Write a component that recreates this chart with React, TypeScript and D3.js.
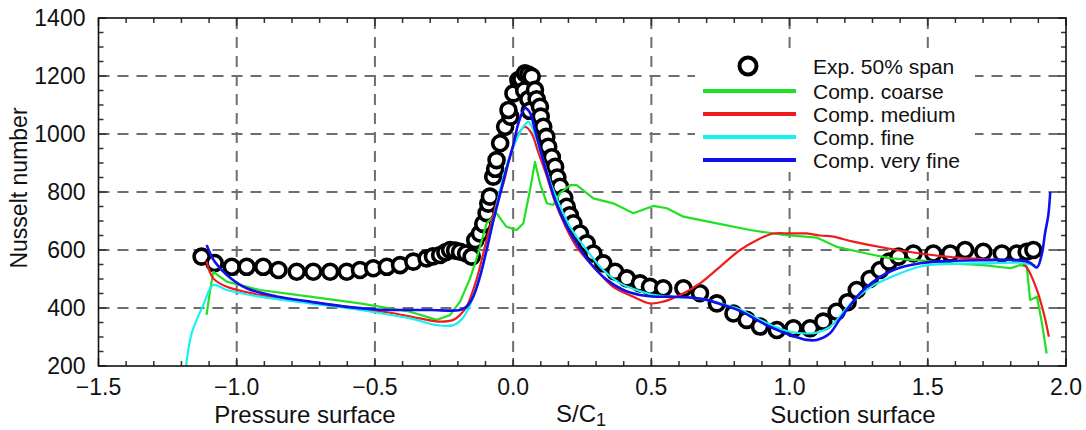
import React from "react";
import * as d3 from "d3";

const expData: [number, number][] = [
  [-1.127, 577], [-1.08, 555], [-1.018, 542], [-0.964, 542], [-0.904, 542], [-0.849, 531],
  [-0.783, 525], [-0.723, 525], [-0.662, 525], [-0.602, 525], [-0.554, 531], [-0.506, 537],
  [-0.457, 542], [-0.409, 548], [-0.361, 560], [-0.313, 571], [-0.29, 578], [-0.264, 583],
  [-0.245, 592], [-0.228, 600], [-0.21, 598], [-0.192, 594], [-0.17, 588], [-0.15, 577],
  [-0.137, 634], [-0.12, 657], [-0.108, 690], [-0.096, 727], [-0.09, 760],
  [-0.084, 784], [-0.072, 853], [-0.065, 880], [-0.06, 910], [-0.047, 968], [-0.029, 1025],
  [-0.01, 1060], [-0.017, 1083], [0.001, 1140], [0.019, 1186], [0.03, 1190], [0.043, 1209],
  [0.055, 1205], [0.04, 1150], [0.055, 1120], [0.06, 1080], [0.067, 1198], [0.079, 1152],
  [0.085, 1120], [0.097, 1094], [0.1, 1060], [0.109, 1025], [0.12, 990], [0.127, 956],
  [0.14, 920], [0.152, 887], [0.16, 850], [0.17, 818], [0.185, 780], [0.194, 749],
  [0.205, 720], [0.218, 692], [0.242, 657], [0.266, 623], [0.29, 588], [0.326, 554],
  [0.369, 525], [0.411, 502], [0.459, 485], [0.495, 473], [0.543, 468], [0.616, 468],
  [0.676, 451], [0.737, 416], [0.797, 381], [0.845, 359], [0.893, 336], [0.954, 324],
  [1.014, 330], [1.074, 330], [1.122, 353], [1.17, 387], [1.21, 420], [1.243, 462],
  [1.29, 500], [1.327, 531], [1.36, 560], [1.394, 577], [1.448, 588], [1.52, 588],
  [1.581, 588], [1.635, 600], [1.701, 594], [1.768, 588], [1.822, 588], [1.858, 594],
  [1.882, 600],
];

const coarse: [number, number][] = [
  [-1.109, 376], [-1.097, 456], [-1.085, 525], [-1.036, 491], [-0.916, 462], [-0.735, 439],
  [-0.554, 416], [-0.373, 387], [-0.276, 359], [-0.228, 376], [-0.192, 422], [-0.156, 502],
  [-0.132, 571], [-0.096, 692], [-0.06, 727], [-0.042, 703], [-0.024, 680], [0.013, 669],
  [0.037, 692], [0.061, 807], [0.079, 904], [0.097, 830], [0.122, 761], [0.145, 755],
  [0.17, 796], [0.206, 824], [0.23, 824], [0.29, 778], [0.362, 761], [0.435, 727],
  [0.507, 752], [0.556, 744], [0.616, 715], [0.737, 692], [0.857, 669], [0.978, 652],
  [1.098, 643], [1.17, 611], [1.279, 588], [1.363, 571], [1.46, 565], [1.581, 554],
  [1.701, 548], [1.799, 537], [1.834, 548], [1.858, 543], [1.87, 428], [1.895, 439],
  [1.913, 348], [1.93, 243],
];

const medium: [number, number][] = [
  [-1.109, 560], [-1.085, 502], [-1.036, 473], [-0.916, 445], [-0.735, 420], [-0.554, 399],
  [-0.433, 382], [-0.337, 364], [-0.264, 353], [-0.216, 359], [-0.192, 376], [-0.168, 405],
  [-0.132, 500], [-0.096, 634], [-0.06, 760], [-0.035, 830], [-0.01, 930], [0.013, 991],
  [0.043, 1025], [0.067, 1002], [0.09, 940], [0.12, 860], [0.15, 770], [0.19, 680],
  [0.23, 610], [0.302, 531], [0.362, 473], [0.435, 439], [0.495, 416], [0.543, 422],
  [0.604, 445], [0.676, 485], [0.749, 543], [0.821, 600], [0.881, 634], [0.941, 657],
  [1.002, 657], [1.062, 657], [1.11, 650], [1.158, 646], [1.23, 629], [1.352, 606],
  [1.472, 588], [1.593, 575], [1.713, 568], [1.834, 560], [1.858, 540], [1.895, 462],
  [1.92, 380], [1.938, 301],
];

const fine: [number, number][] = [
  [-1.183, 200], [-1.163, 313], [-1.121, 410], [-1.085, 479], [-1.036, 462], [-0.916, 439],
  [-0.735, 416], [-0.554, 393], [-0.373, 364], [-0.276, 341], [-0.216, 341], [-0.18, 368],
  [-0.144, 439], [-0.108, 554], [-0.072, 700], [-0.035, 853], [0.001, 956], [0.037, 1025],
  [0.055, 1042], [0.073, 1014], [0.109, 910], [0.145, 807], [0.206, 680], [0.266, 600],
  [0.326, 531], [0.387, 485], [0.447, 462], [0.507, 445], [0.568, 439], [0.64, 436],
  [0.7, 428], [0.76, 413], [0.821, 395], [0.881, 365], [0.941, 338], [1.002, 318],
  [1.062, 312], [1.098, 315], [1.146, 335], [1.207, 400], [1.255, 445], [1.303, 478],
  [1.352, 500], [1.472, 543], [1.593, 552], [1.713, 554], [1.834, 556], [1.87, 550],
  [1.89, 546],
];

const veryFine: [number, number][] = [
  [-1.109, 617], [-1.08, 560], [-1.036, 514], [-0.964, 468], [-0.855, 440], [-0.735, 422],
  [-0.602, 404], [-0.494, 395], [-0.4, 393], [-0.3, 393], [-0.192, 393], [-0.168, 405],
  [-0.144, 440], [-0.12, 508], [-0.096, 600], [-0.072, 700], [-0.048, 790], [-0.024, 880],
  [0, 960], [0.02, 1040], [0.043, 1089], [0.06, 1075], [0.08, 1010], [0.1, 940],
  [0.122, 864], [0.152, 772], [0.188, 692], [0.23, 623], [0.278, 556], [0.339, 497],
  [0.399, 462], [0.459, 445], [0.52, 439], [0.58, 439], [0.64, 436], [0.7, 428],
  [0.76, 410], [0.821, 390], [0.881, 359], [0.941, 330], [1.002, 307], [1.062, 290],
  [1.098, 290], [1.146, 313], [1.18, 359], [1.207, 393], [1.255, 451], [1.303, 491],
  [1.376, 531], [1.472, 554], [1.593, 563], [1.713, 565], [1.834, 565], [1.87, 556],
  [1.895, 540], [1.913, 588], [1.924, 657], [1.936, 720], [1.943, 800],
];

const xTickValues = [-1.5, -1.0, -0.5, 0.0, 0.5, 1.0, 1.5, 2.0];
const yTickValues = [200, 400, 600, 800, 1000, 1200, 1400];
const xGridValues = [-1.0, -0.5, 0.0, 0.5, 1.0, 1.5];
const yGridValues = [400, 600, 800, 1000, 1200];

const seriesNames = ["Comp. coarse", "Comp. medium", "Comp. fine", "Comp. very fine"];
const seriesColors = ["#22e022", "#ee1c1c", "#16f0f0", "#1010ee"];
const expLabel = "Exp. 50% span";

const W = 1086;
const H = 430;
const left = 98.5;
const right = 1066;
const top = 18;
const bottom = 366;
const FONT = "'Liberation Sans', Arial, Helvetica, sans-serif";

export default function App() {
  const x = d3.scaleLinear().domain([-1.5, 2.0]).range([left, right]);
  const y = d3.scaleLinear().domain([200, 1400]).range([bottom, top]);

  const smooth = d3
    .line<[number, number]>()
    .x((d) => x(d[0]))
    .y((d) => y(d[1]))
    .curve(d3.curveCatmullRom.alpha(0.5));
  const linear = d3
    .line<[number, number]>()
    .x((d) => x(d[0]))
    .y((d) => y(d[1]));

  const series = [coarse, medium, fine, veryFine];
  const xMinor = d3.range(-15, 21).map((i) => i / 10);
  const yMinor = d3.range(200, 1401, 50);

  const legendX1 = 703;
  const legendX2 = 796;
  const legendTextX = 813;
  const legendRows = [66, 91, 114, 137, 160];

  return (
    <svg
      width={W}
      height={H}
      style={{ position: "absolute", left: 0, top: 0, background: "#fff" }}
      fontFamily={FONT}
    >
      <defs>
        <clipPath id="plotClip">
          <rect x={left} y={top} width={right - left} height={bottom - top} />
        </clipPath>
      </defs>

      {/* grid */}
      {xGridValues.map((v) => (
        <line
          key={"gx" + v}
          x1={x(v)}
          x2={x(v)}
          y1={top}
          y2={bottom}
          stroke="#6e6e6e"
          strokeWidth={2}
          strokeDasharray="11 8"
        />
      ))}
      {yGridValues.map((v) => (
        <line
          key={"gy" + v}
          x1={left}
          x2={right}
          y1={y(v)}
          y2={y(v)}
          stroke="#6e6e6e"
          strokeWidth={2}
          strokeDasharray="11 8"
        />
      ))}

      {/* legend background */}
      <rect x={695} y={50} width={280} height={122} fill="#fff" />

      {/* ticks */}
      {xMinor.map((v, i) => {
        const major = Math.abs(v * 2 - Math.round(v * 2)) < 1e-6;
        const len = major ? 8 : 5;
        return (
          <g key={"xt" + i} stroke="#333" strokeWidth={1.5}>
            <line x1={x(v)} x2={x(v)} y1={bottom} y2={bottom - len} />
            <line x1={x(v)} x2={x(v)} y1={top} y2={top + len} />
          </g>
        );
      })}
      {yMinor.map((v, i) => {
        const major = v % 200 === 0;
        const len = major ? 8 : 5;
        return (
          <g key={"yt" + i} stroke="#333" strokeWidth={1.5}>
            <line x1={left} x2={left + len} y1={y(v)} y2={y(v)} />
            <line x1={right} x2={right - len} y1={y(v)} y2={y(v)} />
          </g>
        );
      })}

      <g clipPath="url(#plotClip)">
        {/* experimental circles */}
        {expData.map((d, i) => (
          <circle
            key={"e" + i}
            cx={x(d[0])}
            cy={y(d[1])}
            r={7.5}
            fill="#fff"
            stroke="#000"
            strokeWidth={3.6}
          />
        ))}
        {series.map((s, i) => (
          <path
            key={"s" + i}
            d={(i === 0 ? linear(s) : smooth(s)) || ""}
            fill="none"
            stroke={seriesColors[i]}
            strokeWidth={i === 3 ? 2.6 : 2.2}
            strokeLinejoin="round"
          />
        ))}
      </g>

      {/* frame */}
      <rect
        x={left}
        y={top}
        width={right - left}
        height={bottom - top}
        fill="none"
        stroke="#111"
        strokeWidth={1.6}
      />

      {/* tick labels */}
      {yTickValues.map((v) => (
        <text
          key={"yl" + v}
          x={left - 13}
          y={y(v) + 8.3}
          textAnchor="end"
          fontSize={23}
          fill="#111"
        >
          {v}
        </text>
      ))}
      {xTickValues.map((v) => (
        <text
          key={"xl" + v}
          x={x(v)}
          y={395}
          textAnchor="middle"
          fontSize={23}
          fill="#111"
        >
          {v < 0 ? "\u2212" + Math.abs(v).toFixed(1) : v.toFixed(1)}
        </text>
      ))}

      {/* axis titles */}
      <text
        transform={`translate(27,188) rotate(-90)`}
        textAnchor="middle"
        fontSize={23}
        fill="#111"
      >
        Nusselt number
      </text>
      <text x={305} y={423} textAnchor="middle" fontSize={24} fill="#111">
        Pressure surface
      </text>
      <text x={556} y={422} fontSize={24} fill="#111">
        S/C<tspan fontSize={18} dy={4}>1</tspan>
      </text>
      <text x={853} y={423} textAnchor="middle" fontSize={24} fill="#111">
        Suction surface
      </text>

      {/* legend */}
      <circle
        cx={748}
        cy={legendRows[0]}
        r={8.5}
        fill="#fff"
        stroke="#000"
        strokeWidth={4}
      />
      <text x={legendTextX} y={legendRows[0] + 7.5} fontSize={21} fill="#111">
        {expLabel}
      </text>
      {seriesNames.map((n, i) => (
        <g key={"lg" + i}>
          <line
            x1={legendX1}
            x2={legendX2}
            y1={legendRows[i + 1]}
            y2={legendRows[i + 1]}
            stroke={seriesColors[i]}
            strokeWidth={4}
          />
          <text
            x={legendTextX}
            y={legendRows[i + 1] + 7.5}
            fontSize={21}
            fill="#111"
          >
            {n}
          </text>
        </g>
      ))}
    </svg>
  );
}
